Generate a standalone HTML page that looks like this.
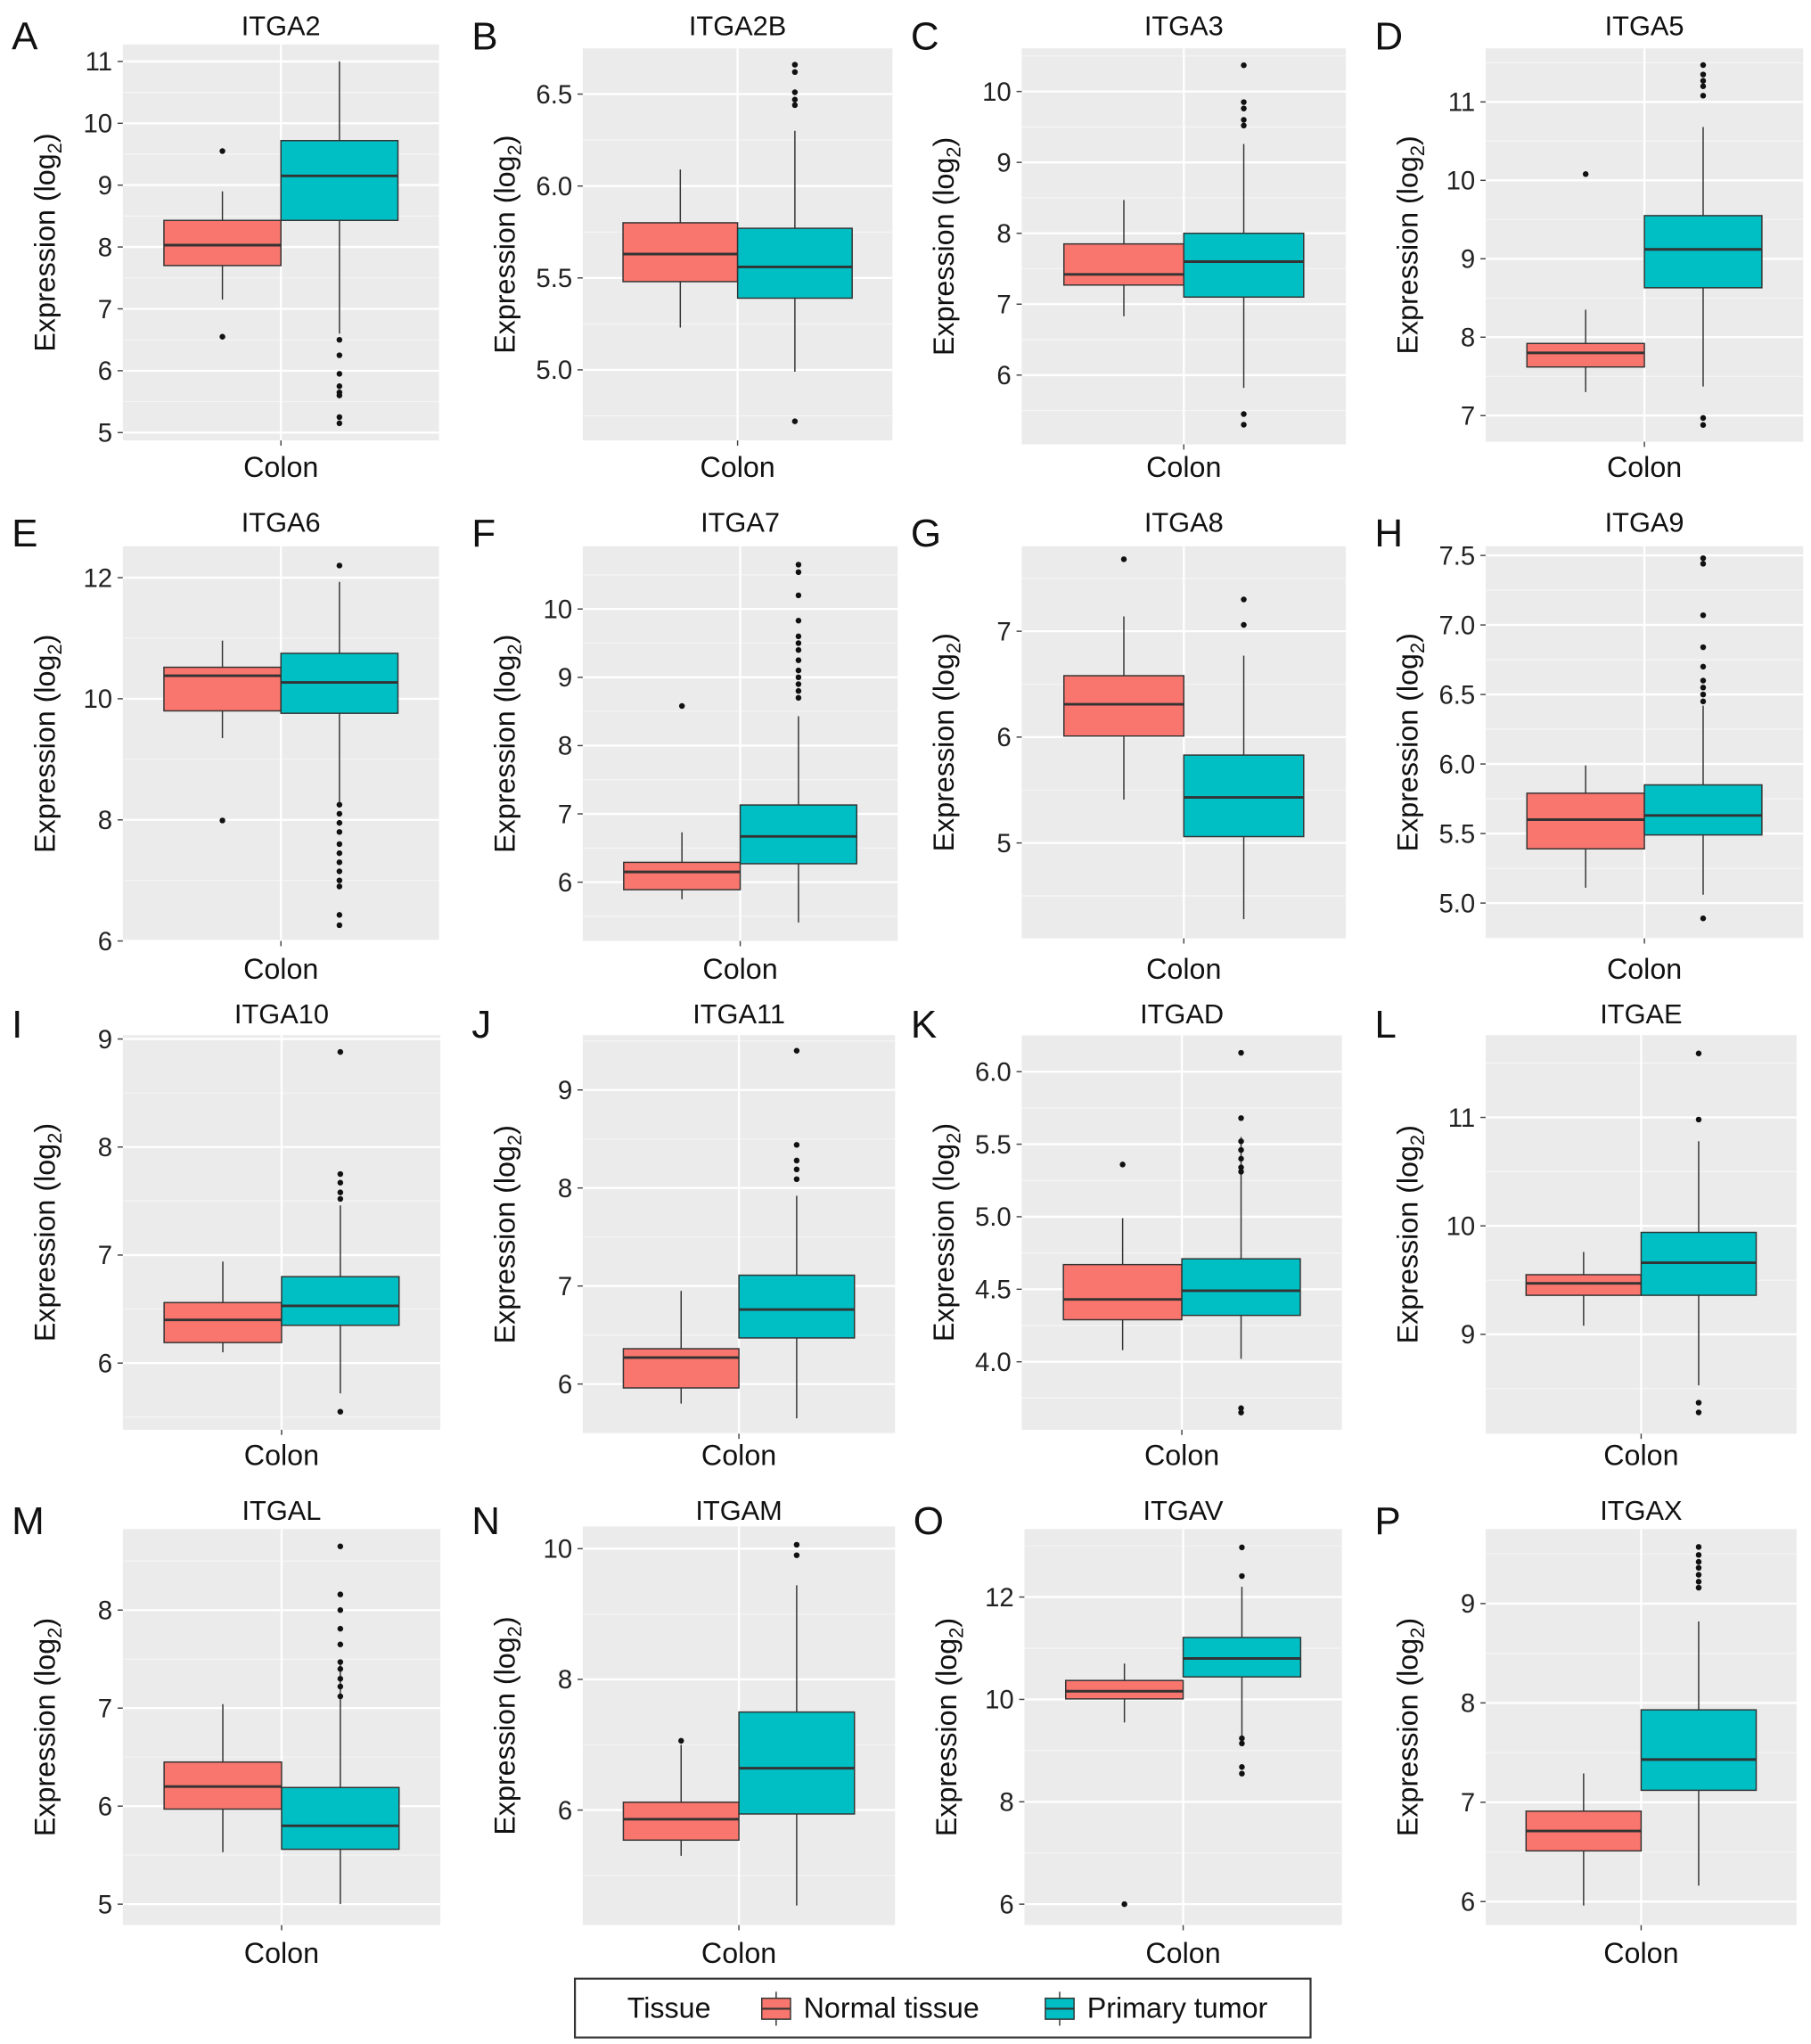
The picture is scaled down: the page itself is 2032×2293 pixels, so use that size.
<!DOCTYPE html>
<html><head><meta charset="utf-8"><style>
html,body{margin:0;padding:0;background:#fff}
svg{display:block}
text{font-family:"Liberation Sans",Arial,sans-serif}
</style></head><body>
<svg id="fig" xmlns="http://www.w3.org/2000/svg" width="2032" height="2293" viewBox="0 0 1386 1564" preserveAspectRatio="none"></svg>
<script>
// ---- data ----
const genes = ["ITGA2","ITGA2B","ITGA3","ITGA5","ITGA6","ITGA7","ITGA8","ITGA9","ITGA10","ITGA11","ITGAD","ITGAE","ITGAL","ITGAM","ITGAV","ITGAX"];
const letters = ["A","B","C","D","E","F","G","H","I","J","K","L","M","N","O","P"];
// [q1, median, q3, whiskerLow, whiskerHigh]
const normalStats = [
 [7.7,8.03,8.43,7.15,8.9],[5.48,5.63,5.80,5.23,6.09],[7.27,7.42,7.85,6.83,8.47],[7.62,7.8,7.92,7.3,8.35],
 [9.8,10.38,10.52,9.35,10.96],[5.89,6.15,6.29,5.75,6.73],[6.01,6.31,6.58,5.41,7.14],[5.39,5.6,5.79,5.11,5.99],
 [6.19,6.4,6.56,6.1,6.94],[5.96,6.27,6.36,5.8,6.95],[4.29,4.43,4.67,4.08,4.99],[9.36,9.47,9.55,9.08,9.76],
 [5.97,6.2,6.45,5.53,7.04],[5.54,5.86,6.12,5.3,7.0],[10.01,10.16,10.37,9.55,10.7],[6.51,6.71,6.91,5.96,7.29]];
const tumorStats = [
 [8.43,9.15,9.72,6.6,11.0],[5.39,5.56,5.77,4.99,6.3],[7.1,7.6,8.0,5.82,9.26],[8.63,9.12,9.55,7.37,10.68],
 [9.76,10.27,10.75,8.3,11.93],[6.27,6.67,7.13,5.41,8.43],[5.06,5.43,5.83,4.28,6.77],[5.49,5.63,5.85,5.06,6.42],
 [6.35,6.53,6.8,5.72,7.46],[6.47,6.76,7.11,5.65,7.92],[4.32,4.49,4.71,4.02,5.55],[9.36,9.66,9.94,8.53,10.78],
 [5.56,5.8,6.19,5.0,7.47],[5.94,6.64,7.5,4.54,9.44],[10.44,10.8,11.21,9.2,12.2],[7.12,7.43,7.93,6.16,8.82]];
const normalOut = [[9.55,6.55],[],[],[10.08],[7.99],[8.58],[7.68],[],[],[],[5.36],[],[],[7.06],[6.0],[]];
const tumorOut = [
 [6.5,6.25,5.95,5.75,5.65,5.6,5.25,5.15],
 [6.66,6.62,6.51,6.47,6.44,4.72],
 [10.37,9.85,9.76,9.6,9.52,5.45,5.3],
 [11.47,11.35,11.27,11.2,11.08,6.97,6.88],
 [12.2,8.25,8.1,7.95,7.8,7.6,7.45,7.3,7.15,7.0,6.9,6.43,6.26],
 [10.65,10.54,10.2,9.83,9.6,9.5,9.4,9.25,9.1,9.0,8.9,8.8,8.7],
 [7.3,7.06],
 [7.48,7.44,7.07,6.84,6.7,6.6,6.55,6.5,6.45,4.89],
 [8.88,7.75,7.67,7.58,7.52,5.55],
 [9.4,8.44,8.28,8.19,8.09],
 [6.13,5.68,5.52,5.46,5.4,5.34,5.31,3.68,3.65],
 [11.59,10.98,8.37,8.28],
 [8.65,8.16,8.0,7.81,7.65,7.47,7.4,7.3,7.22,7.12],
 [10.06,9.9],
 [12.97,12.41,9.24,9.14,8.68,8.55],
 [9.57,9.49,9.42,9.36,9.29,9.22,9.16]];
const tickLabels = [
 ["5","6","7","8","9","10","11"],["5.0","5.5","6.0","6.5"],["6","7","8","9","10"],["7","8","9","10","11"],
 ["6","8","10","12"],["6","7","8","9","10"],["5","6","7"],["5.0","5.5","6.0","6.5","7.0","7.5"],
 ["6","7","8","9"],["6","7","8","9"],["4.0","4.5","5.0","5.5","6.0"],["9","10","11"],
 ["5","6","7","8"],["6","8","10"],["6","8","10","12"],["6","7","8","9"]];
// ---- layout (pixel geometry, not data) ----
// [x0,x1,y0,y1, anchorValLo, anchorPxLo, anchorValHi, anchorPxHi]
const layout = [
 [94,336,34,337,5,331,11,47],[446,683,37,337,5.0,283,6.5,72],[782,1030,37,340,6,287,10,70],[1137,1380,37,338,7,318,11,78],
 [94,336,418,720,6,720,12,442],[446,687,418,720,6,675,10,466],[782,1030,418,718,5,645,7,483],[1137,1380,418,718,5.0,691,7.5,425],
 [94,337,792,1094,6,1043,9,795],[446,685,792,1097,6,1059,9,834],[782,1027,792,1094,4.0,1042,6.0,820],[1137,1375,792,1097,9,1021,11,855],
 [94,337,1170,1473,5,1457,8,1232],[446,685,1168,1473,6,1385,10,1185],[784,1027,1170,1473,6,1457,12,1222],[1137,1375,1170,1473,6,1455,9,1227]];
const rowTitleY=[20,400,776,1156], rowColonY=[357,741,1113,1494];
const NS="http://www.w3.org/2000/svg";
const svg=document.getElementById("fig");
function mk(tag,attrs,parent,txt){const e=document.createElementNS(NS,tag);for(const k in attrs)e.setAttribute(k,attrs[k]);if(txt!==undefined)e.textContent=txt;(parent||svg).appendChild(e);return e;}
const RED="#f8766d", TEAL="#00bfc4";
genes.forEach((g,i)=>{
  const [x0,x1,y0,y1,va,pa,vb,pb]=layout[i];
  const row=Math.floor(i/4);
  const yS=v=>pa+(v-va)*(pb-pa)/(vb-va);
  const grp=mk("g",{});
  
  
  const bg=mk("rect",{x:x0,y:y0,width:x1-x0,height:y1-y0,fill:"#ebebeb"},grp);
  
  
  const ticks=tickLabels[i].map(Number);
  const step=ticks[1]-ticks[0];
  // minor grid
  for(let k=-1;k<ticks.length;k++){const v=ticks[0]+step*(k+0.5);const y=yS(v);if(y>y0&&y<y1)mk("line",{x1:x0,x2:x1,y1:y,y2:y,stroke:"#f5f5f5","stroke-width":0.8},grp);}
  const mid=(x0+x1)/2;
  mk("line",{x1:mid,x2:mid,y1:y0,y2:y1,stroke:"#fff","stroke-width":1.6},grp);
  tickLabels[i].forEach((t,k)=>{const y=yS(ticks[k]);
    mk("line",{x1:x0,x2:x1,y1:y,y2:y,stroke:"#fff","stroke-width":1.6},grp);
    mk("line",{x1:x0-4,x2:x0,y1:y,y2:y,stroke:"#444","stroke-width":1},grp);
    const tl=mk("text",{x:x0-8,y:y+7,"text-anchor":"end","font-size":20,fill:"#222"},grp,t);
    
    
  });
  mk("line",{x1:mid,x2:mid,y1:y1,y2:y1+4,stroke:"#444","stroke-width":1},grp);
  const bw=(x1-x0)*0.37;
  [[normalStats[i],normalOut[i],RED,mid-bw/2,'normal'],[tumorStats[i],tumorOut[i],TEAL,mid+bw/2,'tumor']].forEach(([s,o,c,cx,nm])=>{
    const bx=mk("g",{},grp);
    
    
    mk("line",{x1:cx,x2:cx,y1:yS(s[4]),y2:yS(s[3]),stroke:"#333","stroke-width":1},bx);
    mk("rect",{x:cx-bw/2,y:yS(s[2]),width:bw,height:yS(s[0])-yS(s[2]),fill:c,stroke:"#333","stroke-width":1},bx);
    mk("line",{x1:cx-bw/2,x2:cx+bw/2,y1:yS(s[1]),y2:yS(s[1]),stroke:"#333","stroke-width":2},bx);
    o.forEach(v=>{const p=mk("circle",{cx:cx,cy:yS(v),r:2.2,fill:"#111"},bx);
      
      });
  });
  const tt=mk("text",{x:mid,y:rowTitleY[row]+7,"text-anchor":"middle","font-size":21,fill:"#111"},grp,g);
  
  
  const lt=mk("text",{x:x0-85,y:rowTitleY[row]+18,"font-size":30,fill:"#111"},grp,letters[i]);
  
  
  const cl=mk("text",{x:mid,y:rowColonY[row]+8,"text-anchor":"middle","font-size":22,fill:"#111"},grp,"Colon");
  
  
  const ax=x0-52, ay=(y0+y1)/2;
  const yt=mk("text",{transform:`translate(${ax},${ay}) rotate(-90)`,"text-anchor":"middle","font-size":22,fill:"#111"},grp);
  
  
  mk("tspan",{},yt,"Expression (log");
  mk("tspan",{"font-size":15,dy:5},yt,"2");
  mk("tspan",{dy:-5},yt,")");
});
// legend
const lg=mk("g",{});


mk("rect",{x:440,y:1514,width:563,height:45,fill:"#fff",stroke:"#333","stroke-width":1.5},lg);
mk("text",{x:480,y:1544,"font-size":22,fill:"#111"},lg,"Tissue");
[[RED,583,"Normal tissue",'legend-entry-normal'],[TEAL,800,"Primary tumor",'legend-entry-tumor']].forEach(([c,x,t,n])=>{
  const e=mk("g",{},lg);
  
  
  mk("line",{x1:x+11,x2:x+11,y1:1524,y2:1550,stroke:"#333","stroke-width":1},e);
  mk("rect",{x:x,y:1529,width:22,height:16,fill:c,stroke:"#333","stroke-width":1},e);
  mk("line",{x1:x,x2:x+22,y1:1537,y2:1537,stroke:"#333","stroke-width":1.5},e);
  mk("text",{x:x+32,y:1544,"font-size":22,fill:"#111"},e,t);
});
</script>
</body></html>
